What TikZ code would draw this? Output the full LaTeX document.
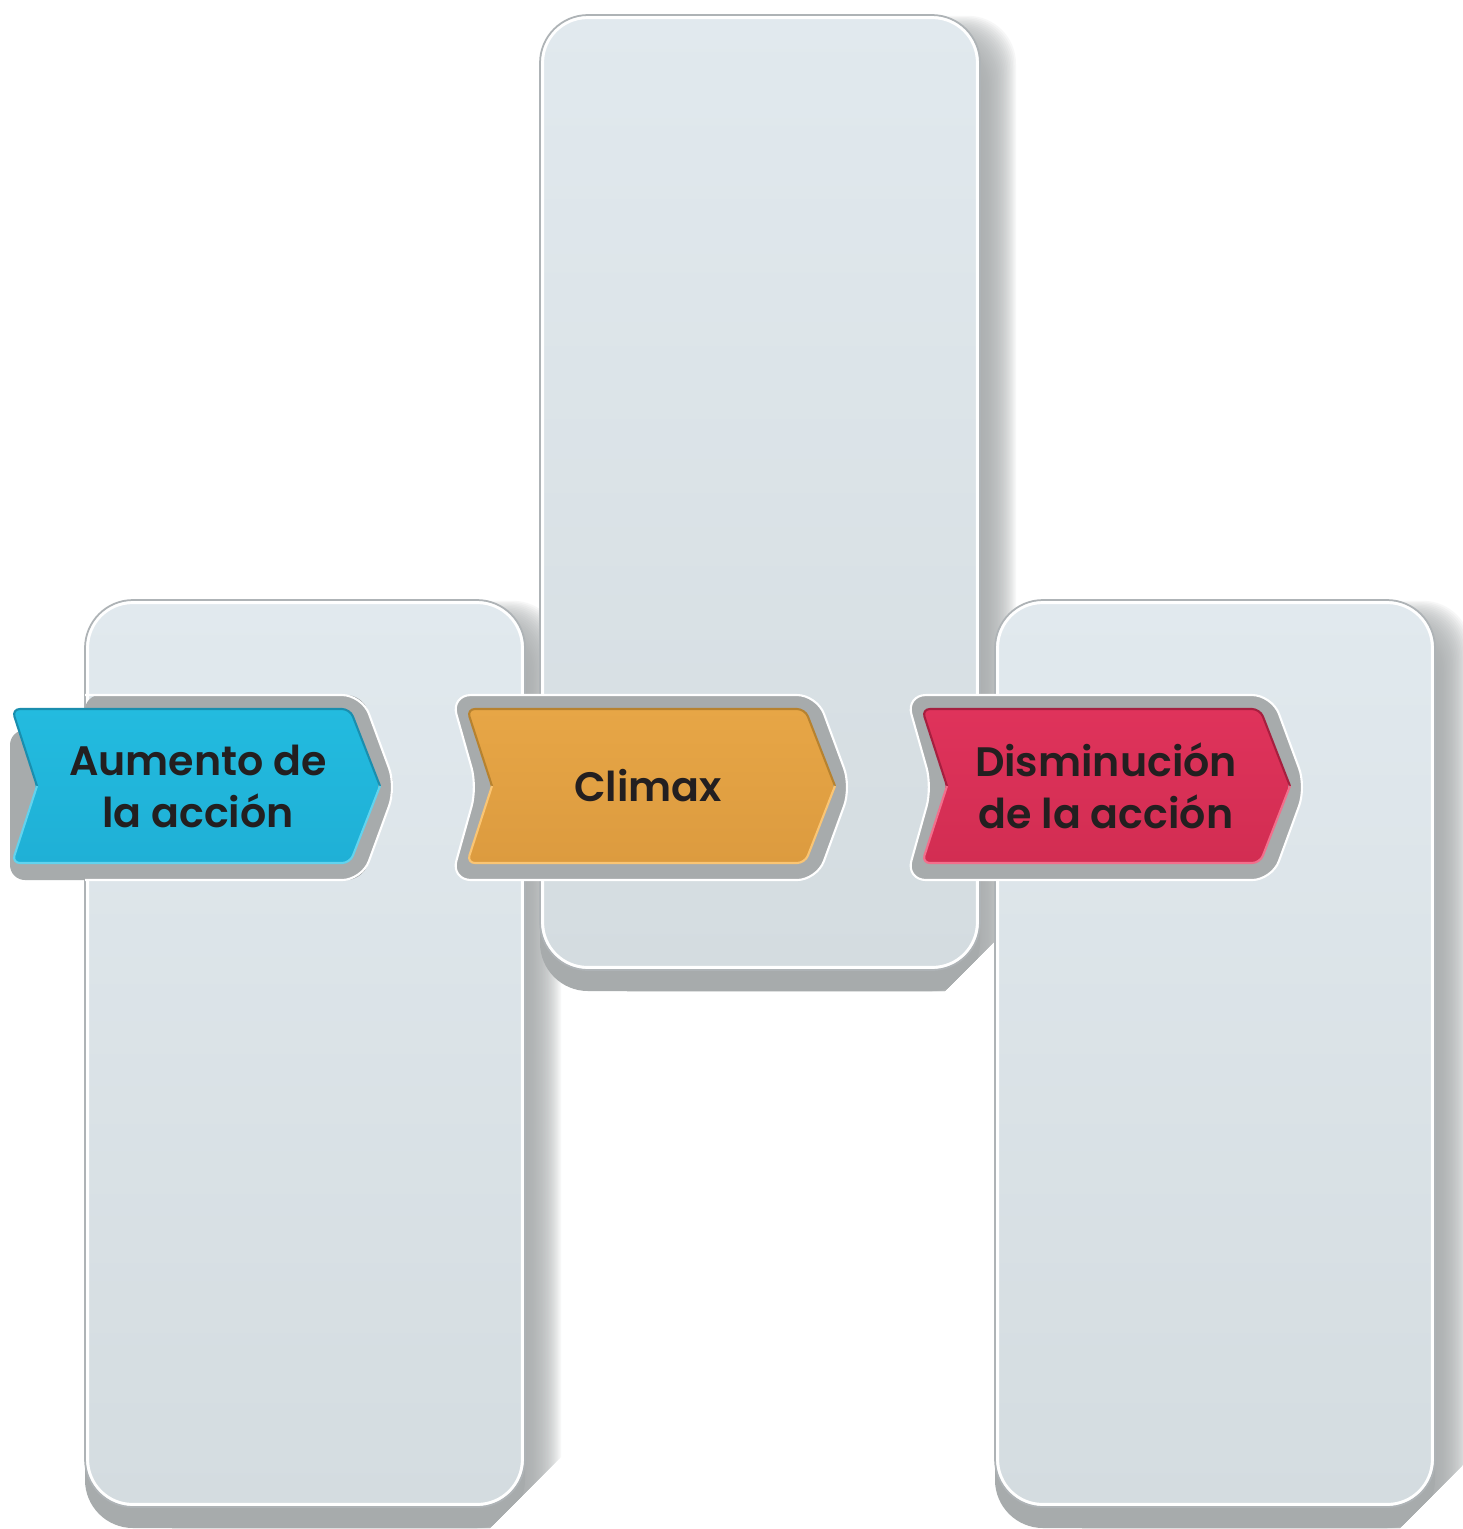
\documentclass[tikz,border=0pt]{standalone}
\usepackage{fontspec}
\setmainfont{Poppins}[BoldFont={Poppins SemiBold}]
\definecolor{pnltop}{HTML}{E1E9EE}
\definecolor{pnlbot}{HTML}{D4DCE0}
\definecolor{pnledge}{HTML}{AEB3B6}
\definecolor{shgray}{HTML}{A7ABAC}
\definecolor{txtcol}{HTML}{231F20}
\definecolor{bltop}{HTML}{23BBDF}
\definecolor{blbot}{HTML}{1FB0D6}
\definecolor{bldark}{HTML}{1A8EAE}
\definecolor{bllight}{HTML}{62D3EE}
\definecolor{ortop}{HTML}{E7A646}
\definecolor{orbot}{HTML}{DC9B3F}
\definecolor{ordark}{HTML}{B7822F}
\definecolor{orlight}{HTML}{FAC574}
\definecolor{rdtop}{HTML}{DF335B}
\definecolor{rdbot}{HTML}{D22D52}
\definecolor{rddark}{HTML}{A61F3F}
\definecolor{rdlight}{HTML}{F26F8C}
\tikzset{
  pnlround/.style={rounded corners=0.48cm},
  lbl/.style={align=center, text=txtcol, inner sep=0pt,
    font=\fontsize{11.7}{14.8}\selectfont\bfseries},
  framefill/.style={fill=shgray, draw=white, line width=0.6pt, rounded corners=0.2cm},
  chevround/.style={rounded corners=0.08cm},
}
% panel: x0 y0 x1 y1
\newcommand{\mypanel}[4]{%
  \begin{scope}
    \clip (#1-5,#2-30) -- (#3+45,#2-30) -- (#3+45,#4-59) -- (#3-35,#4+21) -- (#1-5,#4+21) -- cycle;
    \foreach \i in {1,...,24} {
      \fill[shgray, opacity=0.085, pnlround] (#1+40,#2+32-1.3*\i) rectangle (#3+1.5*\i,#4+21);
    }
    \fill[shgray, pnlround] (#1,#2+21) rectangle (#3,#4+21);
  \end{scope}
  \shade[top color=pnltop, bottom color=pnlbot, pnlround] (#1,#2) rectangle (#3,#4);
  \draw[white, line width=0.9pt, rounded corners=0.45cm] (#1+2.5,#2+2.5) rectangle (#3-2.5,#4-2.5);
  \draw[pnledge, line width=0.5pt, pnlround] (#1,#2) rectangle (#3,#4);
}
% chevron: left x, top colour, bottom colour, dark edge, light edge
\newcommand{\mychevron}[5]{%
  \shade[top color=#2, bottom color=#3, chevround]
    (#1,709) -- (#1+338,709) -- (#1+368,786) -- (#1+338,863) -- (#1,863) -- (#1+25,786) -- cycle;
  \draw[#4, line width=0.6pt, chevround] (#1+25,786) -- (#1,709) -- (#1+338,709) -- (#1+368,786);
  \draw[#5, line width=0.6pt, chevround] (#1+368,786) -- (#1+338,863) -- (#1,863) -- (#1+25,786);
}
\begin{document}
\begin{tikzpicture}[x=0.01cm, y=-0.01cm]
\useasboundingbox (0,0) rectangle (1463,1529);
\fill[white] (0,0) rectangle (1463,1529);

% panels
\mypanel{85}{600}{525}{1507}
\mypanel{540}{15}{980}{970}
\mypanel{995}{600}{1435}{1507}

% gray frames behind chevrons
\fill[shgray, rounded corners=0.15cm] (10,730) -- (85,730) -- (85,695) -- (362,695) -- (396,787) -- (362,880) -- (10,880) -- cycle;
\draw[white, line width=0.6pt, rounded corners=0.2cm] (85,695) -- (362,695) -- (396,787) -- (362,880) -- (85,880);
\path[framefill] (451,695) -- (817,695) -- (851,787) -- (817,880) -- (451,880) -- (477,787) -- cycle;
\path[framefill] (906,695) -- (1272,695) -- (1306,787) -- (1272,880) -- (906,880) -- (932,787) -- cycle;

% chevrons
\mychevron{12}{bltop}{blbot}{bldark}{bllight}
\mychevron{467}{ortop}{orbot}{ordark}{orlight}
\mychevron{922}{rdtop}{rdbot}{rddark}{rdlight}

% labels
\node[lbl] (aumento) at (198,786) {Aumento de\\la acción};
\node[lbl] (climax) at (648,786) {Climax};
\node[lbl] (disminucion) at (1106,786) {Disminución\\de la acción};
\end{tikzpicture}
\end{document}
